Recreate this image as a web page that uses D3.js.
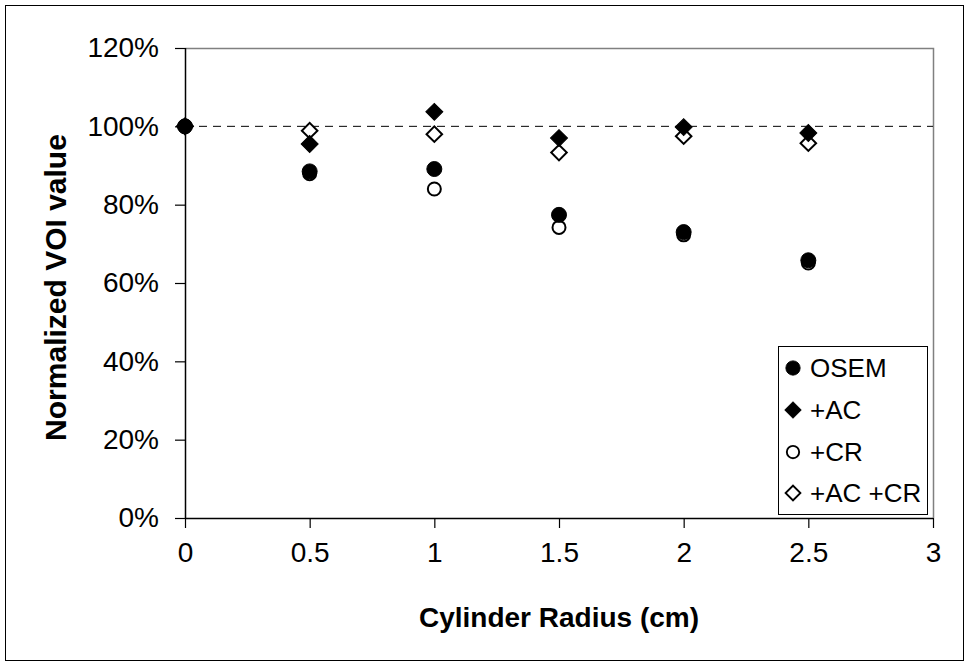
<!DOCTYPE html>
<html>
<head>
<meta charset="utf-8">
<script src="https://cdn.jsdelivr.net/npm/d3@7/dist/d3.min.js"></script>
<style>
  html, body { margin: 0; padding: 0; background: #fff; }
  svg { display: block; font-family: "Liberation Sans", Arial, sans-serif; }
</style>
</head>
<body>
<svg id="chart" width="969" height="666"></svg>
<script>
const radius = [0, 0.5, 1, 1.5, 2, 2.5];
const osem = [100, 88.5, 89.1, 77.4, 73.0, 65.8];
const ac = [100, 95.5, 103.7, 97.0, 99.8, 98.3];
const cr = [100, 87.9, 84.0, 74.2, 72.3, 65.1];
const acCr = [100, 98.9, 98.0, 93.3, 97.5, 95.7];
const seriesNames = ["OSEM", "+AC", "+CR", "+AC +CR"];
const xTicks = [0, 0.5, 1, 1.5, 2, 2.5, 3];
const yTicks = [0, 20, 40, 60, 80, 100, 120];
const refValue = 100;

const svg = d3.select("#chart");
const W = 969, H = 666;
const L = 185, R = 933, T = 48, B = 518;

const x = d3.scaleLinear().domain([0, 3]).range([L, R]);
const y = d3.scaleLinear().domain([0, 120]).range([B, T]);

// outer frame
svg.append("rect").attr("x", 5.5).attr("y", 5.5).attr("width", W - 11).attr("height", H - 11)
  .attr("fill", "none").attr("stroke", "#000").attr("stroke-width", 1);

// plot border (top/right gray)
svg.append("path")
  .attr("d", `M${L},${T + 0.5}H${R + 0.5}V${B}`)
  .attr("fill", "none").attr("stroke", "#808080").attr("stroke-width", 1.5);

// reference dashed line
svg.append("line")
  .attr("x1", L).attr("x2", R).attr("y1", y(refValue)).attr("y2", y(refValue))
  .attr("stroke", "#000").attr("stroke-width", 1).attr("stroke-dasharray", "8,6");

// axes
const xAxis = d3.axisBottom(x).tickValues(xTicks).tickSize(10).tickPadding(14)
  .tickFormat(d => String(d));
const gx = svg.append("g").attr("transform", `translate(0,${B})`).call(xAxis);
const yAxis = d3.axisLeft(y).tickValues(yTicks).tickSize(10).tickPadding(16)
  .tickFormat(d => d + "%");
const gy = svg.append("g").attr("transform", `translate(${L},0)`).call(yAxis);

[gx, gy].forEach(g => {
  g.select(".domain").attr("stroke", "#000").attr("stroke-width", 1.5);
  g.selectAll(".tick line").attr("stroke", "#000").attr("stroke-width", 1.2);
  g.selectAll(".tick text").attr("font-size", 28).attr("fill", "#000")
    .attr("font-family", '"Liberation Sans", Arial, sans-serif');
});
gx.select(".domain").attr("d", `M${L},0.5H${R}`);
gy.select(".domain").attr("d", `M0.5,${B}V${T}`);

// titles
svg.append("text").attr("x", (L + R) / 2).attr("y", 627)
  .attr("text-anchor", "middle").attr("font-size", 28).attr("font-weight", "bold")
  .text("Cylinder Radius (cm)");
svg.append("text").attr("transform", `translate(66,${(130 + 445) / 2}) rotate(-90)`)
  .attr("text-anchor", "middle").attr("font-size", 30).attr("font-weight", "bold")
  .text("Normalized VOI value");

// symbols
const circle = d3.symbol().type(d3.symbolCircle).size(Math.PI * 7.5 * 7.5);
const diamond = d3.symbol().type(d3.symbolSquare).size(12 * 12);
const styles = {
  "OSEM": { sym: circle, fill: "#000", rot: 0 },
  "+AC": { sym: diamond, fill: "#000", rot: 45 },
  "+CR": { sym: d3.symbol().type(d3.symbolCircle).size(Math.PI * 6.5 * 6.5), fill: "#fff", rot: 0 },
  "+AC +CR": { sym: d3.symbol().type(d3.symbolSquare).size(11 * 11), fill: "#fff", rot: 45 }
};
const seriesData = { "OSEM": osem, "+AC": ac, "+CR": cr, "+AC +CR": acCr };

function drawMarker(g, name, px, py, scale) {
  const s = styles[name];
  g.append("path")
    .attr("d", s.sym())
    .attr("transform", `translate(${px},${py}) rotate(${s.rot}) scale(${scale || 1})`)
    .attr("fill", s.fill)
    .attr("stroke", "#000")
    .attr("stroke-width", s.fill === "#fff" ? 2 : 1);
}

const drawOrder = ["+AC +CR", "+CR", "+AC", "OSEM"];
drawOrder.forEach(name => {
  const g = svg.append("g").attr("class", "series");
  seriesData[name].forEach((v, i) => drawMarker(g, name, x(radius[i]), y(v)));
});

// legend
const lg = svg.append("g");
lg.append("rect").attr("x", 778.5).attr("y", 346.5).attr("width", 149).attr("height", 168)
  .attr("fill", "#fff").attr("stroke", "#000").attr("stroke-width", 1);
const rowY = [368, 410, 452, 493];
seriesNames.forEach((name, i) => {
  drawMarker(lg, name, 793, rowY[i], name === "OSEM" ? 0.95 : (name === "+AC" ? 0.95 : 0.95));
  lg.append("text").attr("x", 810).attr("y", rowY[i] + 9)
    .attr("font-size", 26).text(name);
});
</script>
</body>
</html>
